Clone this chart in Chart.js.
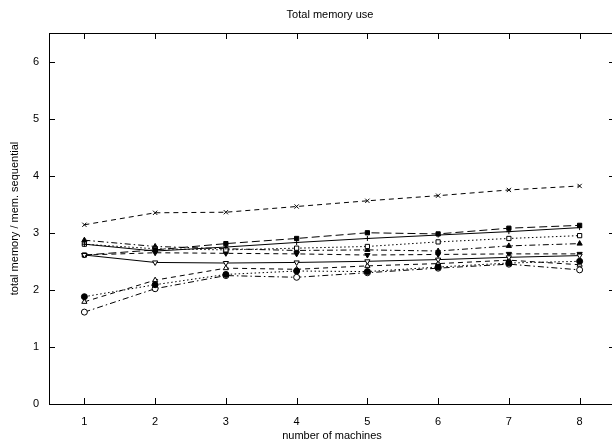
<!DOCTYPE html>
<html><head><meta charset="utf-8">
<script src="https://cdn.jsdelivr.net/npm/chart.js@4"></script>
<style>html,body{margin:0;padding:0;background:#fff;overflow:hidden}#wrap{width:612px;height:442px;overflow:hidden}</style>
</head><body><div id="wrap"><canvas id="c" width="620" height="442"></canvas></div>
<script>
const machines = [1, 2, 3, 4, 5, 6, 7, 8];
const seriesCross   = [3.14, 3.35, 3.36, 3.46, 3.56, 3.65, 3.75, 3.82];
const seriesFSquare = [2.61, 2.70, 2.81, 2.90, 3.00, 2.98, 3.08, 3.13];
const seriesSolidA  = [2.80, 2.68, 2.75, 2.83, 2.90, 2.96, 3.02, 3.09];
const seriesOSquare = [2.80, 2.72, 2.70, 2.73, 2.76, 2.84, 2.90, 2.95];
const seriesFTri    = [2.87, 2.76, 2.72, 2.69, 2.70, 2.68, 2.77, 2.81];
const seriesFDown   = [2.61, 2.65, 2.64, 2.63, 2.61, 2.62, 2.63, 2.63];
const seriesODown   = [2.61, 2.48, 2.47, 2.48, 2.50, 2.53, 2.57, 2.60];
const seriesFCircle = [1.88, 2.09, 2.27, 2.33, 2.32, 2.40, 2.47, 2.50];
const seriesOTri    = [1.79, 2.17, 2.38, 2.36, 2.42, 2.46, 2.52, 2.44];
const seriesOCircle = [1.61, 2.02, 2.25, 2.22, 2.30, 2.38, 2.45, 2.35];
const yTicks = [0, 1, 2, 3, 4, 5, 6];

const pts = arr => machines.map((m, i) => ({x: m, y: arr[i]}));
const DASH = [5, 4], DOT = [1.5, 2.5], DASHDOT = [6, 3, 1.5, 3], LDASH = [8, 4];
function ds(data, dash, style, fill, rot) {
  return {
    data: pts(data), borderColor: '#000', borderWidth: 1, borderDash: dash,
    pointStyle: style, pointRotation: rot || 0, pointRadius: 3,
    pointBackgroundColor: fill ? '#000' : '#fff', pointBorderColor: '#000',
    pointBorderWidth: 1, tension: 0, fill: false
  };
}
const datasets = [
  ds(seriesSolidA, [], 'cross', false),
  ds(seriesODown, [], 'triangle', false, 180),
  ds(seriesCross, DASH, 'crossRot', false),
  ds(seriesFSquare, LDASH, 'rect', true),
  ds(seriesOSquare, DOT, 'rect', false),
  ds(seriesFTri, DASHDOT, 'triangle', true),
  ds(seriesFDown, DASH, 'triangle', true, 180),
  ds(seriesFCircle, DOT, 'circle', true),
  ds(seriesOTri, DASH, 'triangle', false),
  ds(seriesOCircle, DASHDOT, 'circle', false)
];
datasets[0].pointRadius = 2.5;

const FONT = 'Liberation Sans, Arial, sans-serif';
const framePlugin = {
  id: 'frame',
  afterDraw(chart) {
    const {ctx, chartArea: a, scales} = chart;
    ctx.save();
    ctx.strokeStyle = '#000';
    ctx.lineWidth = 1;
    ctx.strokeRect(a.left + 0.5, a.top + 0.5, a.right - a.left, a.bottom - a.top);
    const L = 6;
    ctx.beginPath();
    scales.x.ticks.forEach(t => {
      const px = Math.round(scales.x.getPixelForValue(t.value)) + 0.5;
      ctx.moveTo(px, a.bottom); ctx.lineTo(px, a.bottom - L);
      ctx.moveTo(px, a.top); ctx.lineTo(px, a.top + L);
    });
    scales.y.ticks.forEach(t => {
      const py = Math.round(scales.y.getPixelForValue(t.value)) + 0.5;
      ctx.moveTo(a.left, py); ctx.lineTo(a.left + L, py);
      ctx.moveTo(a.right, py); ctx.lineTo(a.right - L, py);
    });
    ctx.stroke();
    ctx.fillStyle = '#000';
    ctx.font = '11px ' + FONT;
    ctx.textAlign = 'center';
    ctx.textBaseline = 'middle';
    ctx.fillText('Total memory use', 330, 15);
    ctx.restore();
  }
};

new Chart(document.getElementById('c'), {
  type: 'line',
  data: {datasets},
  options: {
    responsive: false, animation: false, devicePixelRatio: 1,
    layout: {padding: {top: 33, right: 2, left: 0, bottom: 0}},
    plugins: {legend: {display: false}, tooltip: {enabled: false}, title: {display: false}},
    scales: {
      x: {
        type: 'linear', min: 0.5, max: 8.5,
        afterBuildTicks: s => { s.ticks = machines.map(v => ({value: v})); },
        afterFit: s => { s.height = 38; },
        grid: {display: false, drawTicks: false}, border: {display: false},
        ticks: {color: '#000', font: {family: FONT, size: 11}, padding: 11, maxRotation: 0},
        title: {display: true, text: 'number of machines', color: '#000', font: {family: FONT, size: 11}, padding: {top: 0, bottom: -1}}
      },
      y: {
        type: 'linear', min: 0, max: 6.5,
        afterBuildTicks: s => { s.ticks = yTicks.map(v => ({value: v})); },
        afterFit: s => { s.width = 49; },
        grid: {display: false, drawTicks: false}, border: {display: false},
        ticks: {color: '#000', font: {family: FONT, size: 11}, padding: 10},
        title: {display: true, text: 'total memory / mem. sequential', color: '#000', font: {family: FONT, size: 11}, padding: {top: 8, bottom: 0}}
      }
    }
  },
  plugins: [framePlugin]
});
</script></body></html>
